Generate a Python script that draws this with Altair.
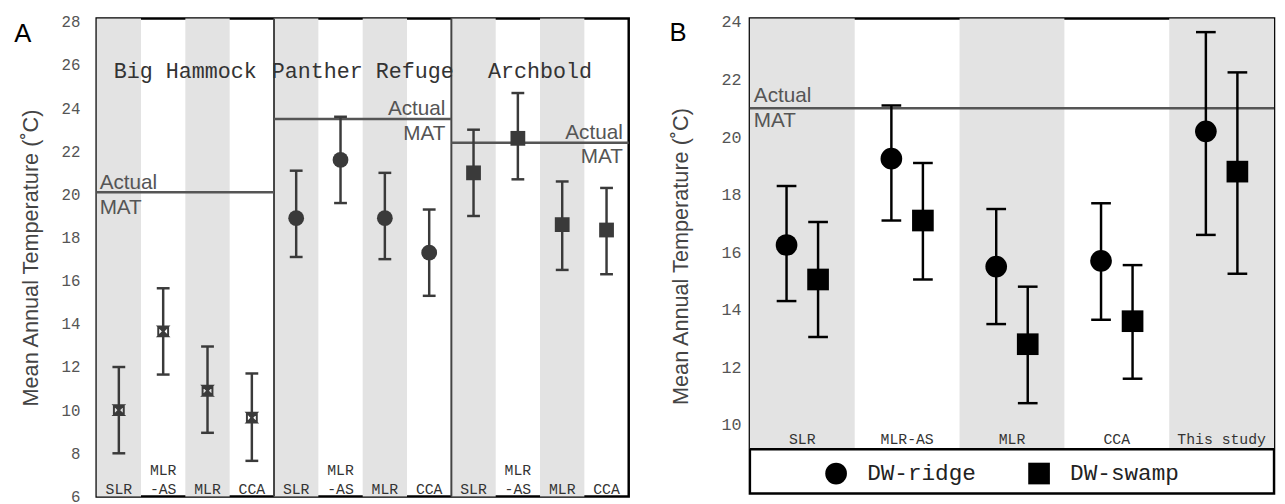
import altair as alt
import pandas as pd

# ---------------- data ----------------
sites = ["Big Hammock", "Panther Refuge", "Archbold"]
methods_a = ["SLR", "MLR-AS", "MLR", "CCA"]
method_labels_a = ["SLR", "MLR\n-AS", "MLR", "CCA"]

bh_mean = [10.0, 13.65, 10.9, 9.65]
bh_low = [8.0, 11.65, 8.95, 7.65]
bh_high = [12.0, 15.65, 12.95, 11.7]

pr_mean = [18.9, 21.6, 18.9, 17.3]
pr_low = [17.1, 19.6, 17.0, 15.3]
pr_high = [21.1, 23.6, 21.0, 19.3]

ar_mean = [21.0, 22.6, 18.6, 18.35]
ar_low = [19.0, 20.7, 16.5, 16.3]
ar_high = [23.0, 24.7, 20.6, 20.3]

actual_mat_a = [20.1, 23.5, 22.4]

methods_b = ["SLR", "MLR-AS", "MLR", "CCA", "This study"]
series_b = ["DW-ridge", "DW-swamp"]
ridge_mean = [16.25, 19.25, 15.5, 15.7, 20.2]
ridge_low = [14.3, 17.1, 13.5, 13.65, 16.6]
ridge_high = [18.3, 21.1, 17.5, 17.7, 23.65]
swamp_mean = [15.05, 17.1, 12.8, 13.6, 18.8]
swamp_low = [13.05, 15.05, 10.75, 11.6, 15.25]
swamp_high = [17.05, 19.1, 14.8, 15.55, 22.25]
actual_mat_b = 21.0

y_ticks_a = [6, 8, 10, 12, 14, 16, 18, 20, 22, 24, 26, 28]
y_ticks_b = [10, 12, 14, 16, 18, 20, 22, 24]
panel_labels = ["A", "B"]
mat_label = ["Actual", "MAT"]
y_title = "Mean Annual Temperature (˚C)"

# ---------------- styling ----------------
SANS = "Liberation Sans"
MONO = "Liberation Mono"
STRIPE = "#e3e3e3"
DARK_A = "#3a3a3a"
W_A, H_A = 540, 485
W_B, H_B = 532, 482
Y_DOM_A = [6, 28.15]
Y_DOM_B = [7.61, 24.12]
LEGEND_TOP = 9.15

# ---------------- tables ----------------
means = [bh_mean, pr_mean, ar_mean]
lows = [bh_low, pr_low, ar_low]
highs = [bh_high, pr_high, ar_high]
rows = []
for si, site in enumerate(sites):
    for mi, m in enumerate(methods_a):
        col = si * len(methods_a) + mi
        lines = method_labels_a[mi].split("\n")
        rows.append(dict(site=site, method=m,
                         line_bottom=lines[-1], line_top=(lines[-2] if len(lines) > 1 else ""),
                         x0=col, x1=col + 1, c=col + 0.5, shaded=(mi % 2 == 0),
                         mean=means[si][mi], low=lows[si][mi], high=highs[si][mi]))
df_a = pd.DataFrame(rows)
n_m = len(methods_a)
sites_df = pd.DataFrame(dict(
    site=sites,
    x0=[i * n_m for i in range(len(sites))],
    x1=[(i + 1) * n_m for i in range(len(sites))],
    xc=[i * n_m + n_m / 2 for i in range(len(sites))],
    mat=actual_mat_a,
))

rows_b = []
for mi, m in enumerate(methods_b):
    rows_b.append(dict(method=m, x0=mi, x1=mi + 1, c=mi + 0.5, shaded=(mi % 2 == 0)))
cols_b = pd.DataFrame(rows_b)
pts_b = []
for mi, m in enumerate(methods_b):
    pts_b.append(dict(method=m, c=mi + 0.5, series=series_b[0],
                      mean=ridge_mean[mi], low=ridge_low[mi], high=ridge_high[mi]))
    pts_b.append(dict(method=m, c=mi + 0.5, series=series_b[1],
                      mean=swamp_mean[mi], low=swamp_low[mi], high=swamp_high[mi]))
df_b = pd.DataFrame(pts_b)
mat_b_df = pd.DataFrame(dict(mat=[actual_mat_b]))

# ---------------- panel A ----------------
xa = alt.Scale(domain=[0, len(sites) * n_m], nice=False, zero=False)
ya = alt.Scale(domain=Y_DOM_A, nice=False, zero=False)
axis_a = alt.Axis(values=y_ticks_a, title=y_title, grid=False, ticks=False, domain=False,
                  labelFont=MONO, labelFontSize=16, labelColor="#555", labelPadding=17,
                  titleFont=SANS, titleFontSize=22, titleFontWeight="normal",
                  titleColor="#444", titlePadding=19)

base_a = alt.Chart(df_a)
stripes_a = base_a.transform_filter("datum.shaded").mark_rect(color=STRIPE).encode(
    x=alt.X("x0:Q", scale=xa, axis=None), x2="x1:Q",
    y=alt.value(0), y2=alt.value(H_A))
dividers_a = alt.Chart(sites_df).transform_filter("datum.x0 > 0").mark_rule(
    color="#444", strokeWidth=2).encode(x=alt.X("x0:Q", scale=xa, axis=None))
mat_a = alt.Chart(sites_df).mark_rule(color="#555", strokeWidth=2.5).encode(
    x=alt.X("x0:Q", scale=xa, axis=None), x2="x1:Q",
    y=alt.Y("mat:Q", scale=ya, axis=axis_a))
mat_first = alt.Chart(sites_df).transform_filter("datum.x0 == 0")
mat_rest = alt.Chart(sites_df).transform_filter("datum.x0 > 0")
txt_kw = dict(font=SANS, fontSize=21, color="#555")
mat_t1 = mat_first.mark_text(align="left", baseline="alphabetic", dx=3, dy=-3, text=mat_label[0], **txt_kw).encode(
    x=alt.X("x0:Q", scale=xa, axis=None), y=alt.Y("mat:Q", scale=ya, axis=axis_a))
mat_t2 = mat_first.mark_text(align="left", baseline="alphabetic", dx=3, dy=22, text=mat_label[1], **txt_kw).encode(
    x=alt.X("x0:Q", scale=xa, axis=None), y=alt.Y("mat:Q", scale=ya, axis=axis_a))
mat_t3 = mat_rest.mark_text(align="right", baseline="alphabetic", dx=-6, dy=-4, text=mat_label[0], **txt_kw).encode(
    x=alt.X("x1:Q", scale=xa, axis=None), y=alt.Y("mat:Q", scale=ya, axis=axis_a))
mat_t4 = mat_rest.mark_text(align="right", baseline="alphabetic", dx=-6, dy=21, text=mat_label[1], **txt_kw).encode(
    x=alt.X("x1:Q", scale=xa, axis=None), y=alt.Y("mat:Q", scale=ya, axis=axis_a))
site_txt = alt.Chart(sites_df).mark_text(font=MONO, fontSize=22, color="#333", baseline="middle").encode(
    x=alt.X("xc:Q", scale=xa, axis=None), y=alt.value(53), text="site:N")

err_a = base_a.mark_rule(color=DARK_A, strokeWidth=2.5).encode(
    x=alt.X("c:Q", scale=xa, axis=None),
    y=alt.Y("low:Q", scale=ya, axis=axis_a), y2="high:Q")
cap_lo_a = base_a.mark_tick(orient="horizontal", size=13, thickness=2.5, color=DARK_A, opacity=1).encode(
    x=alt.X("c:Q", scale=xa, axis=None), y=alt.Y("low:Q", scale=ya, axis=axis_a))
cap_hi_a = base_a.mark_tick(orient="horizontal", size=13, thickness=2.5, color=DARK_A, opacity=1).encode(
    x=alt.X("c:Q", scale=xa, axis=None), y=alt.Y("high:Q", scale=ya, axis=axis_a))
boxed_hourglass = "M-1,-1L1,-1L0,0L1,1L-1,1L0,0Z M-1,-1L-1,1 M1,-1L1,1"
site_shapes = [boxed_hourglass, "circle", "square"]
site_sizes = [100, 256, 225]
pts_a = []
for si, site in enumerate(sites):
    pts_a.append(base_a.transform_filter(alt.datum.site == site).mark_point(
        shape=site_shapes[si], size=site_sizes[si], filled=True, opacity=1, color=DARK_A,
        stroke=DARK_A, strokeWidth=2 if si == 0 else 0).encode(
        x=alt.X("c:Q", scale=xa, axis=None), y=alt.Y("mean:Q", scale=ya, axis=axis_a)))
meth_kw = dict(font=MONO, fontSize=15, color="#333", baseline="alphabetic")
meth_a1 = base_a.mark_text(**meth_kw).encode(
    x=alt.X("c:Q", scale=xa, axis=None), y=alt.value(H_A - 2), text="line_bottom:N")
meth_a2 = base_a.transform_filter("datum.line_top != ''").mark_text(**meth_kw).encode(
    x=alt.X("c:Q", scale=xa, axis=None), y=alt.value(H_A - 22), text="line_top:N")
lab_a = alt.Chart(pd.DataFrame(dict(t=[panel_labels[0]]))).mark_text(
    font=SANS, fontSize=26, color="black", align="center", baseline="alphabetic").encode(
    x=alt.value(-75), y=alt.value(24), text="t:N")

panel_a = alt.layer(stripes_a, dividers_a, mat_a, mat_t1, mat_t2, mat_t3, mat_t4, site_txt,
                    err_a, cap_lo_a, cap_hi_a, *pts_a, meth_a1, meth_a2, lab_a).properties(width=W_A, height=H_A)

# ---------------- panel B ----------------
xb = alt.Scale(domain=[0, len(methods_b)], nice=False, zero=False)
yb = alt.Scale(domain=Y_DOM_B, nice=False, zero=False)
axis_b = alt.Axis(values=y_ticks_b, title=y_title, grid=False, ticks=False, domain=False,
                  labelFont=MONO, labelFontSize=17, labelColor="#555", labelPadding=9,
                  titleFont=SANS, titleFontSize=22, titleFontWeight="normal",
                  titleColor="#444", titlePadding=29)
shape_scale = alt.Scale(domain=series_b, range=["circle", "square"])
legend_b = alt.Legend(orient="none", legendX=76, legendY=450, direction="horizontal", title=None,
                      symbolSize=484, symbolFillColor="black", symbolStrokeColor="black",
                      symbolStrokeWidth=0, symbolOpacity=1, labelFont=MONO, labelFontSize=23,
                      labelColor="#222", labelOffset=20, columnPadding=52, padding=0)

stripes_b = alt.Chart(cols_b).transform_filter("datum.shaded").mark_rect(color=STRIPE).encode(
    x=alt.X("x0:Q", scale=xb, axis=None), x2="x1:Q",
    y=alt.Y(datum=LEGEND_TOP, scale=yb, axis=axis_b), y2=alt.Y2(datum=Y_DOM_B[1]))
leg_line = alt.Chart(mat_b_df).mark_rule(color="black", strokeWidth=2.5).encode(
    y=alt.Y(datum=LEGEND_TOP, scale=yb, axis=axis_b))
mat_b = alt.Chart(mat_b_df).mark_rule(color="#555", strokeWidth=2.5).encode(
    y=alt.Y("mat:Q", scale=yb, axis=axis_b))
mat_bt1 = alt.Chart(mat_b_df).mark_text(align="left", baseline="alphabetic", dx=4, dy=-6, text=mat_label[0], **txt_kw).encode(
    x=alt.value(0), y=alt.Y("mat:Q", scale=yb, axis=axis_b))
mat_bt2 = alt.Chart(mat_b_df).mark_text(align="left", baseline="alphabetic", dx=4, dy=19, text=mat_label[1], **txt_kw).encode(
    x=alt.value(0), y=alt.Y("mat:Q", scale=yb, axis=axis_b))
meth_b = alt.Chart(cols_b).mark_text(font=MONO, fontSize=15, color="#333", baseline="alphabetic", dy=-5).encode(
    x=alt.X("c:Q", scale=xb, axis=None), y=alt.Y(datum=LEGEND_TOP, scale=yb, axis=axis_b), text="method:N")

layers_b = []
offsets = [-16, 16]
for k, s in enumerate(series_b):
    base = alt.Chart(df_b).transform_filter(alt.datum.series == s)
    layers_b.append(base.mark_rule(color="black", strokeWidth=2.5, xOffset=offsets[k]).encode(
        x=alt.X("c:Q", scale=xb, axis=None), y=alt.Y("low:Q", scale=yb, axis=axis_b), y2="high:Q"))
    for fld in ["low", "high"]:
        layers_b.append(base.mark_tick(orient="horizontal", size=20, thickness=2.5, color="black",
                                       opacity=1, xOffset=offsets[k]).encode(
            x=alt.X("c:Q", scale=xb, axis=None), y=alt.Y(f"{fld}:Q", scale=yb, axis=axis_b)))
    layers_b.append(base.mark_point(filled=True, size=484, opacity=1, color="black",
                                    xOffset=offsets[k]).encode(
        x=alt.X("c:Q", scale=xb, axis=None), y=alt.Y("mean:Q", scale=yb, axis=axis_b),
        shape=alt.Shape("series:N", scale=shape_scale, legend=legend_b)))
lab_b = alt.Chart(pd.DataFrame(dict(t=[panel_labels[1]]))).mark_text(
    font=SANS, fontSize=26, color="black", align="center", baseline="alphabetic").encode(
    x=alt.value(-73), y=alt.value(23), text="t:N")

panel_b = alt.layer(stripes_b, leg_line, mat_b, mat_bt1, mat_bt2, meth_b, *layers_b, lab_b).properties(
    width=W_B, height=H_B)

chart = alt.hconcat(panel_a, panel_b, spacing=37).resolve_scale(
    x="independent", y="independent", shape="independent"
).properties(
    padding={"left": 5, "top": 0, "right": 0, "bottom": 0}
).configure_view(stroke="black", strokeWidth=2.5)

chart.save("out.html", embed_options={"renderer": "svg", "actions": False})
